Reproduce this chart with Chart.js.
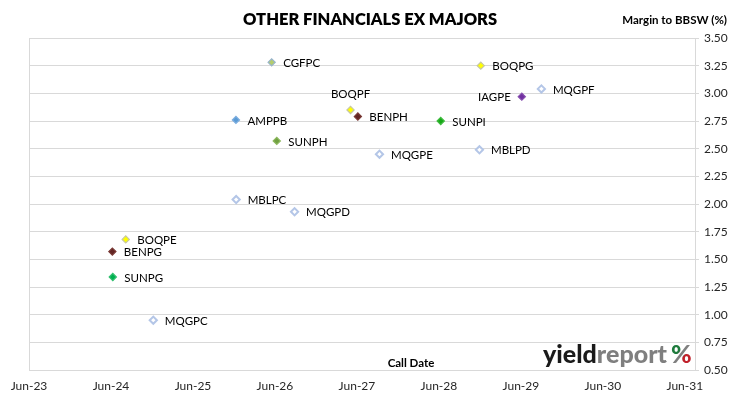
<!DOCTYPE html>
<html>
<head>
<meta charset="utf-8">
<script src="https://cdn.jsdelivr.net/npm/chart.js@4"></script>
<style>
  html, body { margin: 0; padding: 0; background: #fff; }
  #wrap { width: 730px; height: 399px; position: relative; }
</style>
</head>
<body>
<div id="wrap"><canvas id="c" width="730" height="399"></canvas></div>
<script>
// ---- data ----
const securities = ['CGFPC','AMPPB','SUNPH','BOQPF','BENPH','BOQPG','MQGPF','IAGPE','SUNPI','MQGPE','MBLPD','MBLPC','MQGPD','BOQPE','BENPG','SUNPG','MQGPC'];
const callDates  = ['2026-05-17','2025-12-10','2026-06-09','2027-05-03','2027-06-05','2028-12-05','2029-09-01','2029-06-05','2028-06-09','2027-09-10','2028-11-29','2025-12-11','2026-08-28','2024-08-06','2024-06-07','2024-06-09','2024-12-07'];
const margins    = [3.28, 2.76, 2.57, 2.85, 2.79, 3.25, 3.04, 2.97, 2.75, 2.45, 2.49, 2.04, 1.93, 1.68, 1.57, 1.34, 0.95];
const xTickLabels = ['Jun-23','Jun-24','Jun-25','Jun-26','Jun-27','Jun-28','Jun-29','Jun-30','Jun-31'];
const xAxisEnd = '2031-07-16';
const yMin = 0.5, yMax = 3.5, yStep = 0.25;

// ---- styles ----
const HOLLOW = { fill: '#FFFFFF', border: '#B4C6E7' };
const pointStyles = {
  CGFPC: { fill: '#B3CC6E', border: '#98B4CC' },
  AMPPB: { fill: '#5B9BD5', border: '#7FAFE0' },
  SUNPH: { fill: '#70A040', border: '#8DB85E' },
  BOQPF: { fill: '#FFFF00', border: '#C8C8A0' },
  BENPH: { fill: '#632523', border: '#7A3A36' },
  BOQPG: { fill: '#FFFF00', border: '#C8C8A0' },
  MQGPF: HOLLOW,
  IAGPE: { fill: '#7030A0', border: '#8850B0' },
  SUNPI: { fill: '#17A817', border: '#3DBB3D' },
  MQGPE: HOLLOW,
  MBLPD: HOLLOW,
  MBLPC: HOLLOW,
  MQGPD: HOLLOW,
  BOQPE: { fill: '#FFFF00', border: '#C8C8A0' },
  BENPG: { fill: '#632523', border: '#7A3A36' },
  SUNPG: { fill: '#00B050', border: '#33C070' },
  MQGPC: HOLLOW
};
const labelSide = { BOQPF: 'top', IAGPE: 'left' };
const FONT = 'Lato, "Open Sans", sans-serif';

// ---- helpers ----
const MONTHS = ['Jan','Feb','Mar','Apr','May','Jun','Jul','Aug','Sep','Oct','Nov','Dec'];
function dateToYear(s) {
  const [y, m, d] = s.split('-').map(Number);
  const dim = new Date(Date.UTC(y, m, 0)).getUTCDate();
  return y + (m - 1) / 12 + (d - 1) / (dim * 12);
}
function tickLabelToYear(lbl) {
  const [mon, yy] = lbl.split('-');
  return 2000 + Number(yy) + MONTHS.indexOf(mon) / 12;
}
const xTickValues = xTickLabels.map(tickLabelToYear);
const points = securities.map((n, i) => ({ x: dateToYear(callDates[i]), y: margins[i] }));

// ---- plugins ----
const labelsPlugin = {
  id: 'pointLabels',
  afterDatasetsDraw(chart) {
    const ctx = chart.ctx;
    const meta = chart.getDatasetMeta(0);
    ctx.save();
    ctx.font = '11.5px ' + FONT;
    ctx.fillStyle = '#000000';
    meta.data.forEach((el, i) => {
      const name = securities[i];
      const side = labelSide[name] || 'right';
      if (side === 'right') {
        ctx.textAlign = 'left'; ctx.textBaseline = 'middle';
        ctx.fillText(name, el.x + 11.5, el.y + 1);
      } else if (side === 'left') {
        ctx.textAlign = 'right'; ctx.textBaseline = 'middle';
        ctx.fillText(name, el.x - 11, el.y + 1);
      } else {
        ctx.textAlign = 'center'; ctx.textBaseline = 'middle';
        ctx.fillText(name, el.x, el.y - 16);
      }
    });
    ctx.restore();
  }
};

const decorPlugin = {
  id: 'decor',
  afterDraw(chart) {
    const ctx = chart.ctx;
    ctx.save();
    // main title
    ctx.fillStyle = '#000';
    ctx.font = '800 16.5px ' + FONT;
    ctx.textAlign = 'center'; ctx.textBaseline = 'alphabetic';
    ctx.fillText('OTHER FINANCIALS EX MAJORS', 370, 25);
    // axis title
    ctx.font = 'bold 11.5px ' + FONT;
    ctx.textAlign = 'right';
    ctx.fillText('Margin to BBSW (%)', 727, 23.5);
    // x axis title inside plot
    ctx.font = 'bold 11.5px ' + FONT;
    ctx.textAlign = 'center';
    ctx.fillText('Call Date', 411, 367);
    // logo
    ctx.font = '900 24px ' + FONT;
    ctx.textAlign = 'left';
    const base = 363;
    let x = 543;
    const wYield = ctx.measureText('yield').width;
    const wReport = ctx.measureText('report').width;
    const target = 124; // width of the word mark
    const sx = target / (wYield + wReport);
    ctx.save();
    ctx.translate(x, base);
    ctx.scale(sx, 1);
    ctx.fillStyle = '#1A1A1A';
    ctx.fillText('yield', 0, 0);
    ctx.fillStyle = '#7F7F7F';
    ctx.fillText('report', wYield, 0);
    ctx.restore();
    x += target + 4;
    ctx.font = '900 25px ' + FONT;
    const pw = ctx.measureText('%').width;
    const g = ctx.createLinearGradient(x, base - 18, x + pw, base);
    g.addColorStop(0, '#1E7B3C'); g.addColorStop(0.38, '#1E7B3C');
    g.addColorStop(0.40, '#7F7F7F'); g.addColorStop(0.60, '#7F7F7F');
    g.addColorStop(0.62, '#C0202A'); g.addColorStop(1, '#C0202A');
    ctx.fillStyle = g;
    ctx.fillText('%', x, base);
    ctx.restore();
  }
};

// ---- chart ----
new Chart(document.getElementById('c'), {
  type: 'scatter',
  data: {
    datasets: [{
      data: points,
      pointStyle: 'rectRot',
      pointRadius: 3.6,
      pointHoverRadius: 3.6,
      pointBorderWidth: securities.map(n => pointStyles[n] === HOLLOW ? 2 : 1.2),
      pointBackgroundColor: securities.map(n => pointStyles[n].fill),
      pointBorderColor: securities.map(n => pointStyles[n].border)
    }]
  },
  options: {
    responsive: false,
    animation: false,
    events: [],
    layout: { padding: { left: 29, top: 38, right: 0, bottom: 0 } },
    plugins: { legend: { display: false }, tooltip: { enabled: false }, title: { display: false } },
    scales: {
      x: {
        type: 'linear',
        min: xTickValues[0],
        max: dateToYear(xAxisEnd),
        afterBuildTicks(scale) { scale.ticks = xTickValues.map(v => ({ value: v })); },
        afterFit(scale) { scale.height = 29; },
        grid: {
          drawTicks: false,
          color: ctx => ctx.index === 0 ? '#D9D9D9' : 'rgba(0,0,0,0)'
        },
        border: { display: false },
        ticks: {
          autoSkip: false, maxRotation: 0, padding: 9,
          color: '#262626',
          font: { family: FONT, size: 12 },
          callback: (v, i) => xTickLabels[i]
        }
      },
      y: {
        position: 'right',
        min: yMin, max: yMax,
        afterFit(scale) { scale.width = 35; },
        grid: { color: '#D9D9D9', tickLength: 4 },
        border: { display: true, color: '#D9D9D9' },
        ticks: {
          stepSize: yStep, padding: 5,
          color: '#262626',
          font: { family: FONT, size: 12 },
          callback: v => Number(v).toFixed(2)
        }
      }
    }
  },
  plugins: [labelsPlugin, decorPlugin]
});
</script>
</body>
</html>
